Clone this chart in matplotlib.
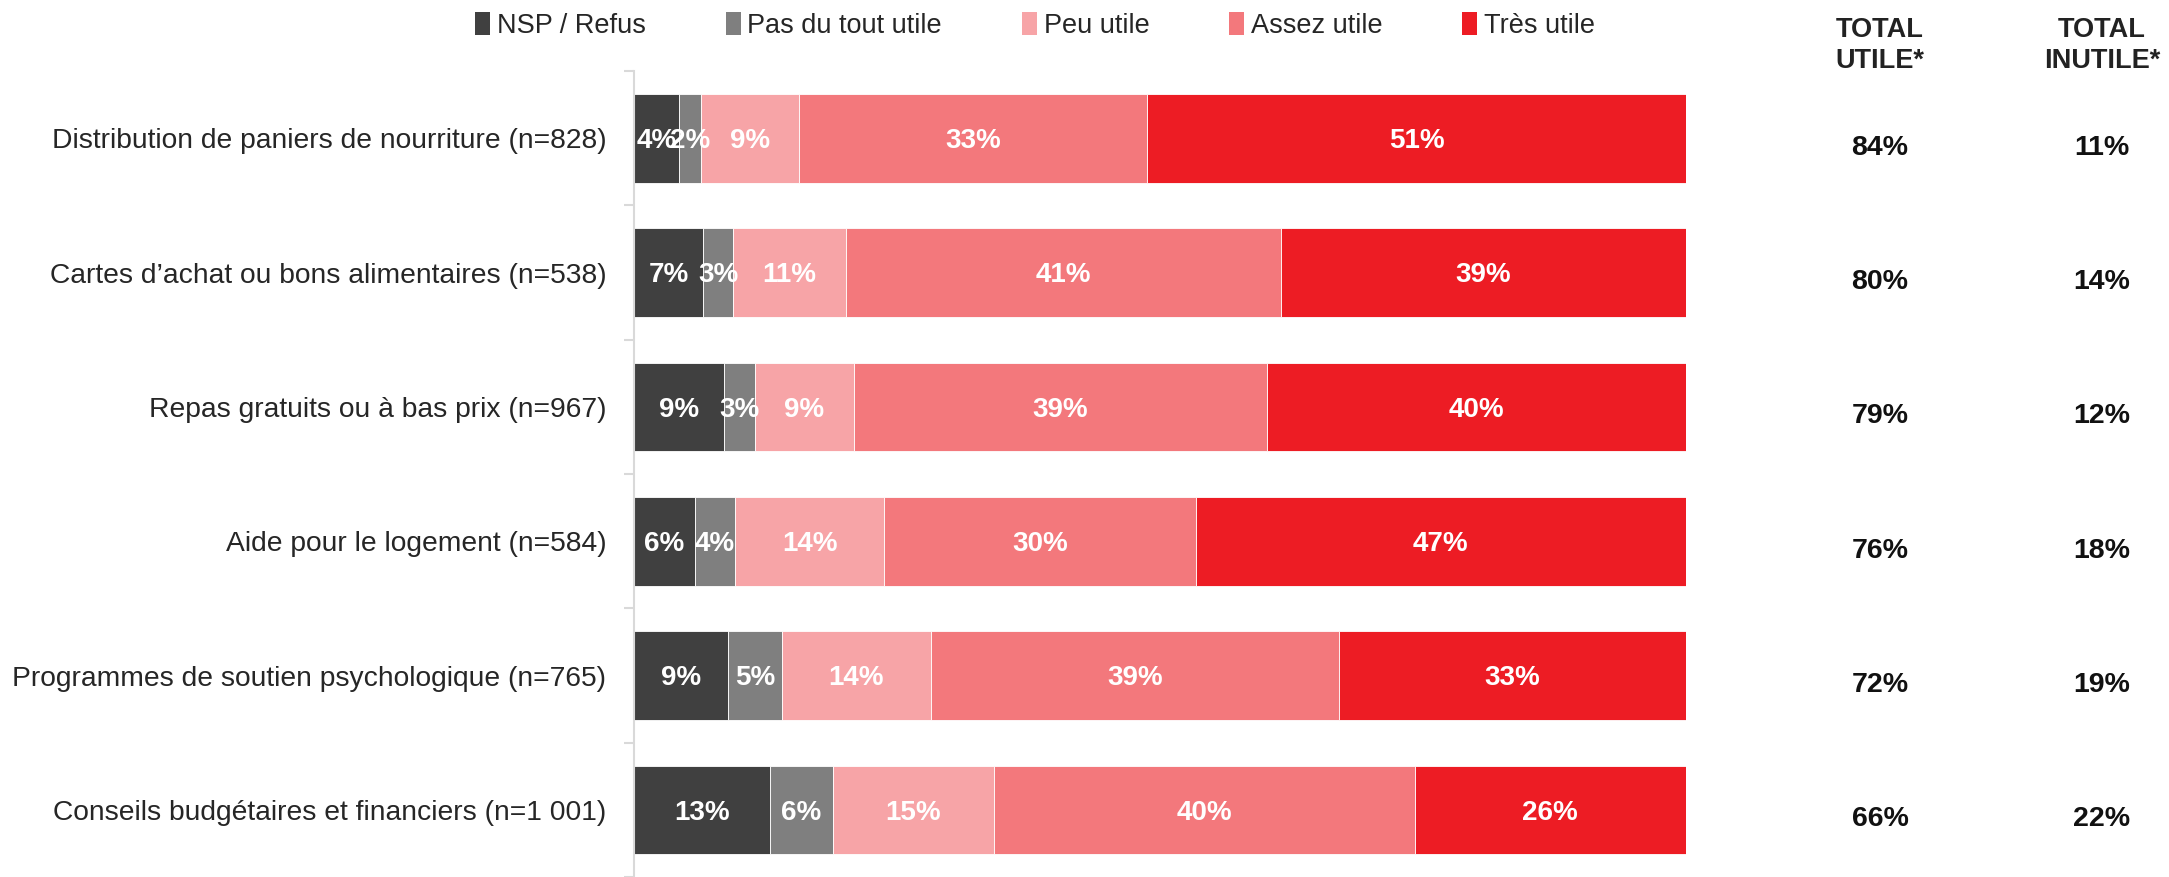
import matplotlib
matplotlib.use('Agg')
import matplotlib.pyplot as plt
from matplotlib.patches import Patch
from matplotlib.transforms import blended_transform_factory
from matplotlib.font_manager import FontProperties

categories = [
    'Distribution de paniers de nourriture (n=828)',
    'Cartes d\u2019achat ou bons alimentaires (n=538)',
    'Repas gratuits ou \u00e0 bas prix (n=967)',
    'Aide pour le logement (n=584)',
    'Programmes de soutien psychologique (n=765)',
    'Conseils budg\u00e9taires et financiers (n=1 001)',
]
series_names = ['NSP / Refus', 'Pas du tout utile', 'Peu utile', 'Assez utile', 'Tr\u00e8s utile']
colors = ['#404040', '#7f7f7f', '#f7a4a7', '#f3787c', '#ed1c24']

# segment widths (labels shown rounded)
nsp = [4.3, 6.6, 8.6, 5.8, 8.9, 12.9]
pas_du_tout = [2.1, 2.8, 2.9, 3.8, 5.2, 6.0]
peu = [9.3, 10.8, 9.4, 14.2, 14.1, 15.3]
assez = [33.1, 41.3, 39.3, 29.6, 38.8, 40.0]
tres = [51.2, 38.5, 39.8, 46.6, 33.0, 25.8]

nsp_lbl = [4, 7, 9, 6, 9, 13]
pas_du_tout_lbl = [2, 3, 3, 4, 5, 6]
peu_lbl = [9, 11, 9, 14, 14, 15]
assez_lbl = [33, 41, 39, 30, 39, 40]
tres_lbl = [51, 39, 40, 47, 33, 26]

total_utile = [84, 80, 79, 76, 72, 66]
total_inutile = [11, 14, 12, 18, 19, 22]

label_font = FontProperties(family='Liberation Sans', size=20.3)
legend_font = FontProperties(family='Liberation Sans', size=19.5)
bar_font = FontProperties(family='Liberation Sans', weight='bold', size=20)
head_font = FontProperties(family='Liberation Sans', weight='bold', size=19.5)
total_font = FontProperties(family='Liberation Sans', weight='bold', size=20.5)

fig = plt.figure(figsize=(21.69, 8.77), dpi=100)
ax = fig.add_axes([0.2923, 0.0, 0.485, 0.919])

values = [nsp, pas_du_tout, peu, assez, tres]
labels = [nsp_lbl, pas_du_tout_lbl, peu_lbl, assez_lbl, tres_lbl]
y = list(range(len(categories)))
left = [0.0] * len(categories)
for vals, lbls, col in zip(values, labels, colors):
    bars = ax.barh(y, vals, left=left, height=0.66, color=col, edgecolor='white', linewidth=0.6)
    for b, l in zip(bars, lbls):
        ax.text(b.get_x() + b.get_width() / 2, b.get_y() + b.get_height() / 2 + 0.02, f'{l}%',
                ha='center', va='center', color='white', fontproperties=bar_font)
    left = [a + v for a, v in zip(left, vals)]

ax.set_xlim(0, 100)
ax.set_ylim(len(categories) - 0.5, -0.5)
ax.set_yticks(y)
ax.set_yticklabels(categories, fontproperties=label_font, color='#262626')
ax.set_yticks([i - 0.5 for i in range(len(categories) + 1)], minor=True)
ax.tick_params(axis='y', which='major', length=0, pad=20)
ax.tick_params(axis='y', which='minor', length=7, width=1.5, color='#d9d9d9')
ax.set_xticks([])
for s in ['top', 'right', 'bottom']:
    ax.spines[s].set_visible(False)
ax.spines['left'].set_color('#d9d9d9')
ax.spines['left'].set_linewidth(1.5)

# totals columns, sitting slightly below the bar centres
tr = blended_transform_factory(fig.transFigure, ax.transData)
for i in y:
    ax.text(0.8668, i + 0.07, f'{total_utile[i]}%', transform=tr, ha='center', va='center',
            fontproperties=total_font, color='#111111')
    ax.text(0.9691, i + 0.07, f'{total_inutile[i]}%', transform=tr, ha='center', va='center',
            fontproperties=total_font, color='#111111')
fig.text(0.8668, 0.948, 'TOTAL\nUTILE*', ha='center', va='center',
         fontproperties=head_font, color='#222222', linespacing=1.25)
fig.text(0.9691, 0.948, 'TOTAL\nINUTILE*', ha='center', va='center',
         fontproperties=head_font, color='#222222', linespacing=1.25)

handles = [Patch(facecolor=c, label=n) for c, n in zip(colors, series_names)]
leg = fig.legend(handles=handles, loc='center', bbox_to_anchor=(0.4773, 0.971), ncol=5,
                 frameon=False, handlelength=0.55, handleheight=0.9, handletextpad=0.25,
                 columnspacing=2.95, prop=legend_font)
for t in leg.get_texts():
    t.set_color('#262626')

plt.savefig('out.png', dpi=100)
